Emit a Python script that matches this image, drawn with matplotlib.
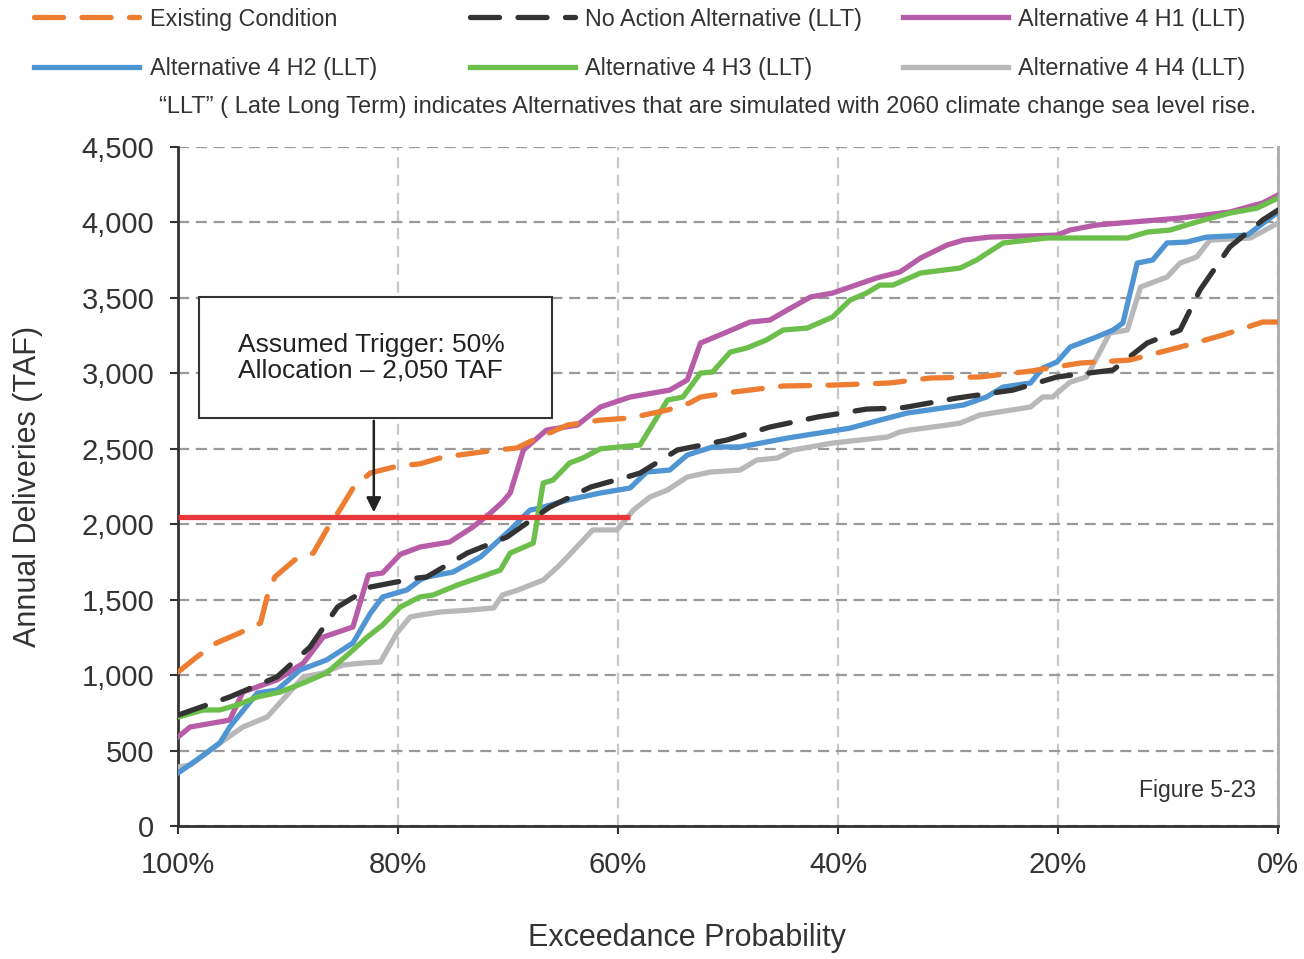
import matplotlib.pyplot as plt
from matplotlib.patches import Rectangle

plt.rcParams['font.family'] = ['Liberation Sans', 'DejaVu Sans']

# exceedance probability (%) and annual deliveries (TAF)
existing_p = [100, 98.3, 96.5, 94.4, 92.5, 91.9, 91.2, 89.4, 87.7, 86.5, 85.3, 84.0, 82.5, 80.0,
              78.0, 75.9, 71.0, 69.2, 67.7, 64.6, 61.6, 58.9, 55.5, 53.5, 52.5, 49.5, 45.0,
              40.5, 35.3, 31.6, 27.1, 22.5, 18.0, 13.5, 8.9, 5.0, 1.4, 0]
existing_v = [1020, 1120, 1213, 1279, 1345, 1518, 1650, 1763, 1809, 1962, 2094, 2250, 2340, 2386,
              2400, 2445, 2492, 2505, 2558, 2657, 2690, 2704, 2757, 2803, 2843, 2876, 2916,
              2922, 2936, 2969, 2976, 3015, 3068, 3088, 3174, 3254, 3340, 3340]

noaction_p = [100, 95.3, 91.0, 88.0, 85.5, 82.5, 78.3, 77.4, 73.7, 70.1, 66.2, 62.5, 59.2, 58.0,
              54.6, 50.1, 46.2, 41.9, 37.4, 34.4, 33.7, 29.2, 24.1, 20.1, 15.0, 11.9, 8.9, 7.1,
              4.4, 1.4, 0]
noaction_v = [735, 855, 988, 1186, 1451, 1584, 1643, 1650, 1809, 1915, 2114, 2246, 2313, 2339,
              2492, 2558, 2644, 2710, 2763, 2770, 2777, 2836, 2889, 2976, 3022, 3201, 3287, 3552,
              3837, 4016, 4082]

h1_p = [100, 98.9, 95.3, 94.1, 91.0, 88.6, 86.8, 84.1, 82.7, 81.4, 79.8, 78.0, 75.3, 73.2, 71.6,
        70.5, 69.8, 68.6, 66.5, 63.7, 62.3, 61.6, 58.9, 55.3, 53.7, 52.5, 50.1, 48.0, 46.2, 44.6,
        42.5, 40.5, 38.9, 36.5, 34.4, 34.1, 32.5, 30.1, 28.6, 26.2, 20.1, 18.9, 16.5, 14.4, 8.9,
        4.4, 1.4, 0]
h1_v = [590, 656, 702, 888, 968, 1080, 1252, 1319, 1663, 1677, 1800, 1849, 1882, 1981, 2074,
        2147, 2207, 2492, 2624, 2657, 2737, 2777, 2843, 2889, 2956, 3201, 3274, 3340, 3353, 3420,
        3506, 3532, 3572, 3632, 3671, 3685, 3764, 3850, 3883, 3903, 3916, 3950, 3983, 3996, 4029,
        4069, 4129, 4182]

h2_p = [100, 98.3, 96.2, 95.3, 92.8, 91.0, 88.9, 86.5, 84.1, 82.5, 81.4, 79.2, 78.0, 77.4, 75.0,
        72.5, 69.8, 68.0, 67.1, 64.6, 61.6, 58.9, 57.4, 55.3, 53.7, 51.4, 48.9, 44.6, 38.9, 36.2,
        33.7, 28.6, 26.5, 25.0, 22.5, 21.4, 20.1, 18.9, 16.5, 15.0, 14.1, 12.8, 11.4, 10.1, 8.3,
        6.5, 2.8, 0]
h2_v = [351, 437, 550, 656, 881, 901, 1034, 1100, 1213, 1411, 1518, 1564, 1630, 1650, 1683,
        1783, 1962, 2094, 2107, 2160, 2207, 2240, 2346, 2359, 2459, 2512, 2512, 2571, 2637, 2690,
        2737, 2790, 2843, 2909, 2936, 3035, 3075, 3174, 3241, 3287, 3334, 3731, 3751, 3864, 3870,
        3903, 3916, 4069]

h3_p = [100, 97.7, 96.2, 94.6, 92.8, 90.7, 88.6, 86.5, 84.4, 82.8, 81.4, 79.8, 78.0, 76.8, 74.6,
        72.5, 70.7, 69.8, 67.7, 66.8, 65.9, 64.4, 63.2, 61.6, 58.0, 55.5, 54.1, 52.5, 51.4, 49.8,
        48.3, 46.5, 45.0, 42.8, 40.5, 38.9, 37.4, 36.2, 35.0, 32.5, 28.9, 27.4, 25.0, 21.0, 13.7,
        11.9, 9.8, 7.4, 4.4, 1.9, 0]
h3_v = [722, 769, 769, 802, 855, 888, 948, 1014, 1146, 1252, 1332, 1451, 1518, 1531, 1597,
        1650, 1696, 1809, 1875, 2273, 2293, 2406, 2439, 2500, 2525, 2823, 2843, 3002, 3009, 3141,
        3168, 3221, 3287, 3300, 3373, 3486, 3532, 3585, 3585, 3665, 3698, 3751, 3864, 3897, 3897,
        3936, 3950, 4003, 4062, 4095, 4162]

h4_p = [100, 98.9, 96.2, 94.1, 91.9, 90.5, 88.6, 86.8, 85.0, 83.2, 81.6, 80.1, 78.9, 78.0, 76.2,
        73.5, 71.3, 70.5, 69.1, 66.8, 65.5, 64.6, 62.3, 60.1, 58.6, 57.1, 55.5, 53.7, 51.6, 48.9,
        47.4, 45.5, 44.1, 40.5, 38.0, 35.5, 34.4, 33.5, 30.1, 28.9, 27.1, 22.5, 21.4, 20.5, 18.9,
        17.4, 15.3, 13.7, 12.5, 10.1, 8.9, 7.4, 6.2, 2.5, 0]
h4_v = [391, 404, 550, 656, 722, 835, 988, 1014, 1067, 1080, 1087, 1279, 1385, 1398, 1418,
        1431, 1445, 1531, 1564, 1630, 1716, 1783, 1962, 1962, 2094, 2180, 2227, 2313, 2346, 2359,
        2425, 2439, 2492, 2538, 2558, 2578, 2611, 2624, 2657, 2670, 2724, 2777, 2843, 2843, 2942,
        2976, 3267, 3287, 3572, 3638, 3731, 3771, 3883, 3897, 3996]

trigger_p = [100, 58.9]
trigger_v = [2050, 2050]

x_ticks = [100, 80, 60, 40, 20, 0]
y_ticks = [0, 500, 1000, 1500, 2000, 2500, 3000, 3500, 4000, 4500]

c_orange = '#ED7D31'
c_black = '#333333'
c_mag = '#B75CA6'
c_blue = '#4F95D3'
c_green = '#6CBF4B'
c_gray = '#B8B8BA'
txt = '#333333'
lw = 3.8

fig = plt.figure(figsize=(13.04, 9.59), dpi=100)
ax = fig.add_axes([0.1365, 0.1387, 0.8436, 0.708])

l_h1, = ax.plot(h1_p, h1_v, color=c_mag, lw=lw, label='Alternative 4 H1 (LLT)', zorder=3)
l_h2, = ax.plot(h2_p, h2_v, color=c_blue, lw=lw, label='Alternative 4 H2 (LLT)', zorder=3)
l_h3, = ax.plot(h3_p, h3_v, color=c_green, lw=lw, label='Alternative 4 H3 (LLT)', zorder=3)
l_h4, = ax.plot(h4_p, h4_v, color=c_gray, lw=lw, label='Alternative 4 H4 (LLT)', zorder=2.9)
l_na, = ax.plot(noaction_p, noaction_v, color=c_black, lw=lw, dashes=(5.5, 3.5),
                dash_capstyle='round', label='No Action Alternative (LLT)', zorder=4)
l_ex, = ax.plot(existing_p, existing_v, color=c_orange, lw=lw, dashes=(5.5, 3.5),
                dash_capstyle='round', label='Existing Condition', zorder=4)
ax.plot(trigger_p, trigger_v, color='#E8373A', lw=lw, solid_capstyle='butt', zorder=5)

ax.set_xlim(100, 0)
ax.set_ylim(0, 4500)
ax.set_xticks(x_ticks)
ax.set_xticklabels([f'{t}%' for t in x_ticks])
ax.set_yticks(y_ticks)
ax.set_yticklabels([f'{t:,}' for t in y_ticks])
ax.tick_params(axis='both', labelsize=21, colors=txt, direction='out', length=6, width=1.5)
ax.tick_params(axis='x', pad=12)
ax.tick_params(axis='y', pad=11)

ax.yaxis.grid(True, color='#9a9a9a', lw=1.6, dashes=(5, 3))
ax.xaxis.grid(True, color='#c8c8c8', lw=1.6, dashes=(5, 3))
ax.set_axisbelow(True)
for s in ['left', 'bottom']:
    ax.spines[s].set_color(txt)
    ax.spines[s].set_linewidth(2)
ax.spines['top'].set_visible(False)
ax.spines['right'].set_color('#aaaaaa')
ax.spines['right'].set_linewidth(2)

ax.set_ylabel('Annual Deliveries (TAF)', fontsize=22, color=txt)
ax.yaxis.set_label_coords(-0.123, 0.5)
ax.set_xlabel('Exceedance Probability', fontsize=22, color=txt)
ax.xaxis.set_label_coords(0.463, -0.143)

# trigger annotation box and arrow
ax.add_patch(Rectangle((98.1, 2704), -32.1, 801, fc='white', ec='#333333', lw=1.5, zorder=6))
ax.text(94.5, 3105, 'Assumed Trigger: 50%\nAllocation \u2013 2,050 TAF', fontsize=19,
        color='#222222', ha='left', va='center', linespacing=1.1, zorder=7)
ax.annotate('', xy=(82.2, 2060), xytext=(82.2, 2704),
            arrowprops=dict(arrowstyle='-|>', color='#222222', lw=1.8, mutation_scale=22),
            zorder=6)

ax.text(0.98, 0.035, 'Figure 5-23', transform=ax.transAxes, fontsize=16.5, color=txt,
        ha='right', va='bottom')

# legend: three columns of two entries
cols = [([l_ex, l_h2], 0.010), ([l_na, l_h3], 0.344), ([l_h1, l_h4], 0.676)]
for hs, x0 in cols:
    fig.legend(handles=hs, loc='upper left', bbox_to_anchor=(x0, 1.014), frameon=False,
               fontsize=16.8, handlelength=4.5, handletextpad=0.45, labelspacing=1.15,
               labelcolor=txt)

fig.text(0.543, 0.888, '\u201cLLT\u201d ( Late Long Term) indicates Alternatives that are simulated '
         'with 2060 climate change sea level rise.', fontsize=17, color=txt,
         ha='center', va='center')

fig.savefig('out.png', dpi=100)
